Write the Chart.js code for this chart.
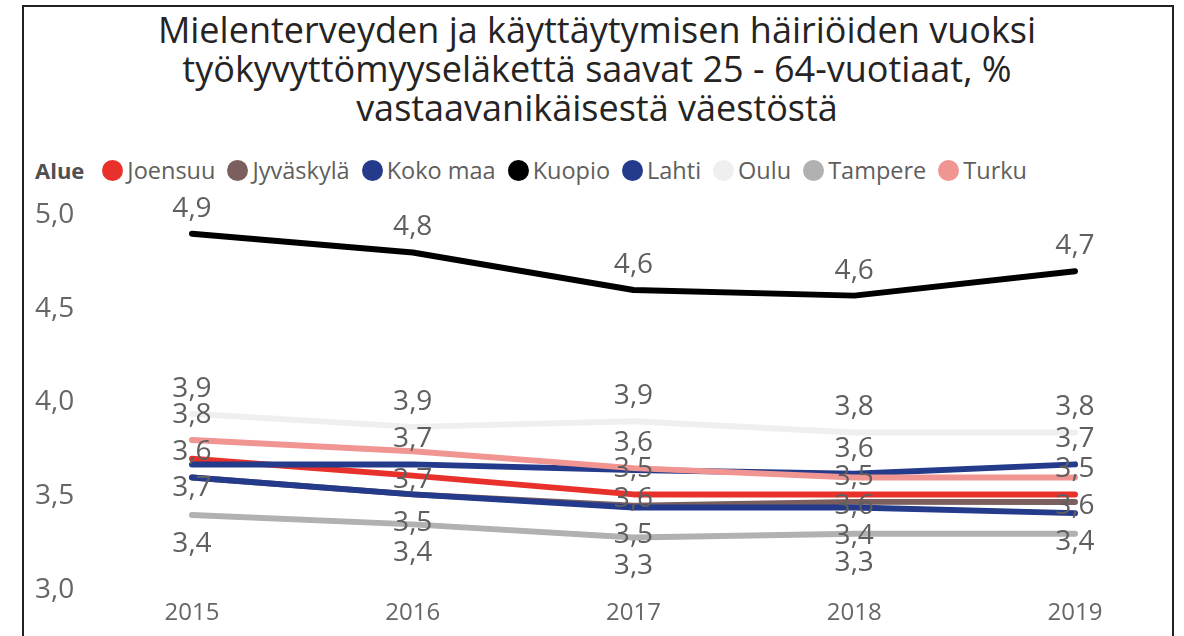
<!DOCTYPE html>
<html>
<head>
<meta charset="utf-8">
<script src="https://cdn.jsdelivr.net/npm/chart.js@4.4.1/dist/chart.umd.min.js"></script>
<style>
  body { margin: 0; background: #fff; width: 1184px; height: 636px; overflow: hidden; position: relative; }
  #frame { position: absolute; left: 22px; top: 5px; width: 1148px; height: 700px; border: 2px solid #222; }
  #title { position: absolute; left: 24px; top: 10px; width: 1146px; text-align: center;
           font-family: "Open Sans", sans-serif; font-size: 36px; line-height: 39px; color: #252423; }
  #legend { position: absolute; left: 35px; top: 154px; display: flex; align-items: center;
            font-family: "Open Sans", sans-serif; font-size: 23.5px; color: #605e5c; white-space: nowrap; }
  #legend b { color: #505050; margin-right: 18px; font-size: 22px; }
  .item { display: flex; align-items: center; margin-right: 12px; }
  .dot { width: 21px; height: 21px; border-radius: 50%; margin-right: 4px; }
  #wrap { position: absolute; left: 24px; top: 190px; width: 1146px; height: 446px; }
</style>
</head>
<body>
<div id="frame"></div>
<div id="title">Mielenterveyden ja käyttäytymisen häiriöiden vuoksi<br>työkyvyttömyyseläkettä saavat 25 - 64-vuotiaat, %<br>vastaavanikäisestä väestöstä</div>
<div id="legend"></div>
<div id="wrap"><canvas id="chart"></canvas></div>
<script>
// Years on the x axis
const years = ['2015', '2016', '2017', '2018', '2019'];

// Series, in legend order
const seriesNames = ['Joensuu', 'Jyväskylä', 'Koko maa', 'Kuopio', 'Lahti', 'Oulu', 'Tampere', 'Turku'];
const joensuu   = [3.70, 3.61, 3.51, 3.51, 3.51];
const jyvaskyla = [3.60, 3.51, 3.45, 3.47, 3.47];
const kokoMaa   = [3.60, 3.51, 3.44, 3.44, 3.41];
const kuopio    = [4.90, 4.80, 4.60, 4.57, 4.70];
const lahti     = [3.67, 3.67, 3.64, 3.62, 3.67];
const oulu      = [3.94, 3.87, 3.90, 3.84, 3.84];
const tampere   = [3.40, 3.35, 3.28, 3.30, 3.30];
const turku     = [3.80, 3.74, 3.65, 3.60, 3.60];
const seriesValues = [joensuu, jyvaskyla, kokoMaa, kuopio, lahti, oulu, tampere, turku];
const seriesColors = ['#e8312b', '#7b5f5f', '#243a8a', '#000000', '#243a8a', '#efefef', '#b1b1b1', '#f19592'];

// Y axis range
const yMin = 3.0;
const yMax = 5.0;
const yStep = 0.5;

// Finnish number format: 3,5
function fmt(v) { return v.toFixed(1).replace('.', ','); }

// Build the html legend
const legend = document.getElementById('legend');
legend.innerHTML = '<b>Alue</b>' + seriesNames.map((n, i) =>
  `<span class="item"><span class="dot" style="background:${seriesColors[i]}"></span>${n}</span>`).join('');

// Data labels, placed above the point, or below if that spot is taken
const dataLabels = {
  id: 'dataLabels',
  afterDatasetsDraw(chart) {
    const ctx = chart.ctx;
    ctx.save();
    ctx.font = '28px "Open Sans", sans-serif';
    ctx.fillStyle = '#5f5f5f';
    ctx.textAlign = 'center';
    ctx.textBaseline = 'middle';
    const h = 25;
    years.forEach((_, xi) => {
      const pts = chart.data.datasets.map((ds, di) => {
        const el = chart.getDatasetMeta(di).data[xi];
        return { x: el.x, y: el.y, v: ds.data[xi] };
      }).sort((a, b) => a.y - b.y);
      const placed = [];
      pts.forEach(p => {
        const tries = [p.y - 25, p.y + 29];
        for (const ty of tries) {
          if (placed.every(q => Math.abs(q - ty) >= h)) {
            placed.push(ty);
            ctx.fillText(fmt(p.v), p.x, ty);
            break;
          }
        }
      });
    });
    ctx.restore();
  }
};

const n = seriesNames.length;
new Chart(document.getElementById('chart'), {
  type: 'line',
  data: {
    labels: years,
    datasets: seriesNames.map((name, i) => ({
      label: name,
      data: seriesValues[i],
      borderColor: seriesColors[i],
      backgroundColor: seriesColors[i],
      borderWidth: 6,
      borderCapStyle: 'round',
      borderJoinStyle: 'round',
      pointRadius: 0,
      tension: 0,
      order: n - 1 - i  // later legend items drawn on top
    }))
  },
  options: {
    responsive: true,
    maintainAspectRatio: false,
    animation: false,
    layout: { padding: { left: 11, right: 95, top: 25, bottom: 0 } },
    plugins: { legend: { display: false }, tooltip: { enabled: false } },
    scales: {
      x: {
        offset: false,
        grid: { display: false, drawTicks: false },
        border: { display: false },
        ticks: { color: '#666', font: { family: '"Open Sans", sans-serif', size: 24 }, padding: 9 },
        afterFit(scale) { scale.height = 46; }
      },
      y: {
        min: yMin,
        max: yMax,
        grid: { display: false, drawTicks: false },
        border: { display: false },
        ticks: {
          stepSize: yStep,
          color: '#666',
          crossAlign: 'far',
          font: { family: '"Open Sans", sans-serif', size: 28 },
          callback: v => fmt(v)
        },
        afterFit(scale) { scale.width = 157; }
      }
    }
  },
  plugins: [dataLabels]
});
</script>
</body>
</html>
